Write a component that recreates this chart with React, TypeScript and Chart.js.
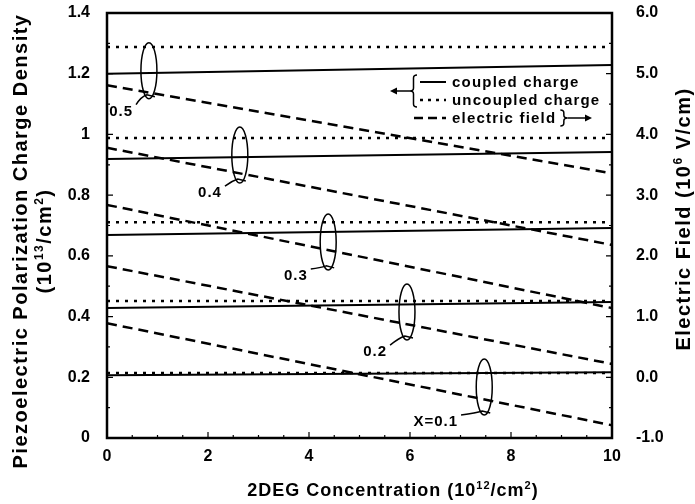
import React, { useEffect, useRef } from 'react';
import { Chart, registerables } from 'chart.js';

Chart.register(...registerables);

// 2DEG concentration (10^12 /cm^2) at which each curve is sampled
const concentration = [0, 10];

// Coupled polarization charge (10^13 /cm^2), one array per Al mole fraction
const coupled01 = [0.207, 0.217];
const coupled02 = [0.428, 0.448];
const coupled03 = [0.669, 0.692];
const coupled04 = [0.919, 0.942];
const coupled05 = [1.2, 1.229];

// Uncoupled polarization charge (10^13 /cm^2)
const uncoupled01 = [0.214, 0.214];
const uncoupled02 = [0.451, 0.451];
const uncoupled03 = [0.711, 0.711];
const uncoupled04 = [0.988, 0.988];
const uncoupled05 = [1.288, 1.288];

// Electric field in the barrier (10^6 V/cm)
const field01 = [0.89, -0.79];
const field02 = [1.83, 0.22];
const field03 = [2.84, 1.14];
const field04 = [3.78, 2.18];
const field05 = [4.81, 3.36];

const xTickLabels = ['0', '2', '4', '6', '8', '10'];
const chargeTickLabels = ['0', '0.2', '0.4', '0.6', '0.8', '1', '1.2', '1.4'];
const fieldTickLabels = ['-1.0', '0.0', '1.0', '2.0', '3.0', '4.0', '5.0', '6.0'];

// Mole-fraction group markers: ellipse centre and label anchor, in axis units
const groupLabels = ['X=0.1', '0.2', '0.3', '0.4', '0.5'];
const markerX = [7.47, 5.94, 4.38, 2.63, 0.83];
const markerY = [0.168, 0.415, 0.646, 0.932, 1.21];
const labelX = [6.51, 5.31, 3.74, 2.04, 0.28];
const labelY = [0.053, 0.283, 0.534, 0.807, 1.075];

const legendLabels = ['coupled charge', 'uncoupled charge', 'electric field'];

const FONT = '"Liberation Sans", Arial, Helvetica, sans-serif';

type Seg = { t: string; sup?: boolean };

function drawRich(
  ctx: CanvasRenderingContext2D,
  segs: Seg[],
  cx: number,
  cy: number,
  rot: number,
  size: number,
  spacing: number
) {
  ctx.save();
  ctx.translate(cx, cy);
  ctx.rotate(rot);
  ctx.fillStyle = '#000';
  ctx.textAlign = 'left';
  ctx.textBaseline = 'alphabetic';
  (ctx as any).letterSpacing = `${spacing}px`;
  const fontFor = (s: Seg) => `bold ${s.sup ? Math.round(size * 0.62) : size}px ${FONT}`;
  let total = 0;
  const widths = segs.map((s) => {
    ctx.font = fontFor(s);
    const w = ctx.measureText(s.t).width;
    total += w;
    return w;
  });
  let x = -total / 2;
  const base = size * 0.36;
  segs.forEach((s, i) => {
    ctx.font = fontFor(s);
    ctx.fillText(s.t, x, s.sup ? base - size * 0.42 : base);
    x += widths[i];
  });
  ctx.restore();
}

function arrowHead(ctx: CanvasRenderingContext2D, x: number, y: number, dir: number) {
  ctx.beginPath();
  ctx.moveTo(x, y);
  ctx.lineTo(x - dir * 7, y - 3.5);
  ctx.lineTo(x - dir * 7, y + 3.5);
  ctx.closePath();
  ctx.fill();
}

function brace(ctx: CanvasRenderingContext2D, x: number, yTop: number, yBot: number, dir: number) {
  // dir = -1 draws "{" (point on the left), +1 draws "}" (point on the right)
  const w = 7;
  const tip = x + (dir < 0 ? 0 : w);
  const back = x + (dir < 0 ? w : 0);
  const mid = (tip + back) / 2;
  const ym = (yTop + yBot) / 2;
  ctx.beginPath();
  ctx.moveTo(back, yTop);
  ctx.quadraticCurveTo(mid, yTop, mid, yTop + 3);
  ctx.lineTo(mid, ym - 3);
  ctx.quadraticCurveTo(mid, ym, tip, ym);
  ctx.quadraticCurveTo(mid, ym, mid, ym + 3);
  ctx.lineTo(mid, yBot - 3);
  ctx.quadraticCurveTo(mid, yBot, back, yBot);
  ctx.stroke();
}

const decorPlugin = {
  id: 'decor',
  afterDatasetsDraw(chart: any) {
    const { ctx, chartArea: a, scales } = chart;
    const xs = scales.x;
    const ys = scales.y;
    const ys2 = scales.y2;
    ctx.save();
    ctx.strokeStyle = '#000';
    ctx.fillStyle = '#000';
    ctx.setLineDash([]);

    // plot frame
    ctx.lineWidth = 2.5;
    ctx.strokeRect(a.left, a.top, a.right - a.left, a.bottom - a.top);

    // inward tick marks
    ctx.lineWidth = 1.2;
    ctx.beginPath();
    for (let k = 0; k <= 20; k++) {
      const px = xs.getPixelForValue(k * 0.5);
      const len = k % 4 === 0 ? 6 : 3;
      ctx.moveTo(px, a.bottom);
      ctx.lineTo(px, a.bottom - len);
    }
    for (let k = 0; k <= 14; k++) {
      const py = ys.getPixelForValue(k * 0.1);
      const len = k % 2 === 0 ? 6 : 3;
      ctx.moveTo(a.left, py);
      ctx.lineTo(a.left + len, py);
    }
    for (let k = 0; k <= 14; k++) {
      const py = ys2.getPixelForValue(-1 + k * 0.5);
      const len = k % 2 === 0 ? 6 : 3;
      ctx.moveTo(a.right, py);
      ctx.lineTo(a.right - len, py);
    }
    ctx.stroke();

    // mole-fraction group markers
    ctx.lineWidth = 1.5;
    ctx.font = `bold 15px ${FONT}`;
    (ctx as any).letterSpacing = '1px';
    ctx.textAlign = 'center';
    ctx.textBaseline = 'middle';
    for (let i = 0; i < groupLabels.length; i++) {
      const cx = xs.getPixelForValue(markerX[i]);
      const cy = ys.getPixelForValue(markerY[i]);
      const rx = 8;
      const ry = 28;
      ctx.beginPath();
      ctx.ellipse(cx, cy, rx, ry, 0, 0, Math.PI * 2);
      ctx.stroke();
      const lx = xs.getPixelForValue(labelX[i]);
      const ly = ys.getPixelForValue(labelY[i]);
      ctx.fillText(groupLabels[i], lx, ly);
      const w = ctx.measureText(groupLabels[i]).width;
      ctx.beginPath();
      ctx.moveTo(lx + w / 2 + 3, ly - 7);
      ctx.quadraticCurveTo(cx - 8, cy + ry - 2, cx - 2, cy + ry - 4);
      ctx.lineTo(cx + 6, cy + ry - 2);
      ctx.stroke();
    }

    // legend
    const rows = [82, 100, 118];
    const sx0 = 420;
    const sx1 = 446;
    const tx = 452;
    ctx.lineWidth = 2;
    ctx.beginPath();
    ctx.moveTo(sx0, rows[0]);
    ctx.lineTo(sx1, rows[0]);
    ctx.stroke();
    ctx.lineWidth = 2.5;
    ctx.setLineDash([3, 5]);
    ctx.beginPath();
    ctx.moveTo(sx0, rows[1]);
    ctx.lineTo(sx1, rows[1]);
    ctx.stroke();
    ctx.setLineDash([9, 5]);
    ctx.beginPath();
    ctx.moveTo(414, rows[2]);
    ctx.lineTo(sx1, rows[2]);
    ctx.stroke();
    ctx.setLineDash([]);

    ctx.font = `bold 15px ${FONT}`;
    (ctx as any).letterSpacing = '1.2px';
    ctx.textAlign = 'left';
    ctx.textBaseline = 'middle';
    legendLabels.forEach((t, i) => ctx.fillText(t, tx, rows[i] + 1));

    // "{" grouping the two charge entries, pointing at the left axis
    ctx.lineWidth = 1.5;
    brace(ctx, 410, 75, 107, -1);
    ctx.beginPath();
    ctx.moveTo(410, 91);
    ctx.lineTo(396, 91);
    ctx.stroke();
    arrowHead(ctx, 390, 91, -1);

    // "}" on the field entry, pointing at the right axis
    const fw = ctx.measureText(legendLabels[2]).width;
    const bx = tx + fw + 4;
    brace(ctx, bx, rows[2] - 8, rows[2] + 8, 1);
    ctx.beginPath();
    ctx.moveTo(bx + 7, rows[2]);
    ctx.lineTo(585, rows[2]);
    ctx.stroke();
    arrowHead(ctx, 592, rows[2], 1);

    ctx.restore();
  },
  afterDraw(chart: any) {
    const { ctx } = chart;
    drawRich(ctx, [{ t: 'Piezoelectric Polarization Charge Density' }], 20, 241, -Math.PI / 2, 20, 1.5);
    drawRich(
      ctx,
      [{ t: '(10' }, { t: '13', sup: true }, { t: '/cm' }, { t: '2', sup: true }, { t: ')' }],
      44,
      241,
      -Math.PI / 2,
      20,
      1.5
    );
    drawRich(
      ctx,
      [{ t: 'Electric Field (10' }, { t: '6', sup: true }, { t: ' V/cm)' }],
      683,
      219,
      -Math.PI / 2,
      20,
      1.5
    );
    drawRich(
      ctx,
      [{ t: '2DEG Concentration (10' }, { t: '12', sup: true }, { t: '/cm' }, { t: '2', sup: true }, { t: ')' }],
      393,
      490,
      0,
      18,
      1
    );
  },
};

export default function App() {
  const canvasRef = useRef<HTMLCanvasElement>(null);

  useEffect(() => {
    const canvas = canvasRef.current;
    if (!canvas) return;

    const pts = (ys: number[]) => ys.map((y, i) => ({ x: concentration[i], y }));
    const solid = { borderColor: '#000', borderWidth: 2, pointRadius: 0, fill: false, yAxisID: 'y' };
    const dotted = { ...solid, borderWidth: 2.5, borderDash: [3, 6] };
    const dashed = { ...solid, borderWidth: 2.5, borderDash: [10, 6], yAxisID: 'y2' };

    const coupled = [coupled01, coupled02, coupled03, coupled04, coupled05];
    const uncoupled = [uncoupled01, uncoupled02, uncoupled03, uncoupled04, uncoupled05];
    const field = [field01, field02, field03, field04, field05];

    const datasets: any[] = [];
    coupled.forEach((d, i) => datasets.push({ ...solid, label: `coupled ${groupLabels[i]}`, data: pts(d) }));
    uncoupled.forEach((d, i) => datasets.push({ ...dotted, label: `uncoupled ${groupLabels[i]}`, data: pts(d) }));
    field.forEach((d, i) => datasets.push({ ...dashed, label: `field ${groupLabels[i]}`, data: pts(d) }));

    const tickFont = { family: FONT, size: 16, weight: 'bold' as const };

    const chart = new Chart(canvas, {
      type: 'line',
      data: { datasets },
      plugins: [decorPlugin],
      options: {
        responsive: false,
        animation: false,
        events: [],
        layout: { padding: { top: 13, left: 0, right: 0, bottom: 0 } },
        plugins: { legend: { display: false }, tooltip: { enabled: false } },
        scales: {
          x: {
            type: 'linear',
            position: 'bottom',
            min: 0,
            max: 10,
            afterFit: (s: any) => {
              s.height = 66;
              s.paddingLeft = 0;
              s.paddingRight = 0;
            },
            grid: { display: false, drawTicks: false },
            border: { display: false },
            ticks: {
              stepSize: 2,
              color: '#000',
              font: tickFont,
              padding: 9,
              maxRotation: 0,
              autoSkip: false,
              callback: (_v: any, i: number) => xTickLabels[i],
            },
          },
          y: {
            type: 'linear',
            position: 'left',
            min: 0,
            max: 1.4,
            afterFit: (s: any) => {
              s.width = 107;
              s.paddingTop = 0;
              s.paddingBottom = 0;
            },
            grid: { display: false, drawTicks: false },
            border: { display: false },
            ticks: {
              stepSize: 0.2,
              color: '#000',
              font: tickFont,
              padding: 17,
              autoSkip: false,
              callback: (_v: any, i: number) => chargeTickLabels[i],
            },
          },
          y2: {
            type: 'linear',
            position: 'right',
            min: -1,
            max: 6,
            afterFit: (s: any) => {
              s.width = 83;
              s.paddingTop = 0;
              s.paddingBottom = 0;
            },
            grid: { display: false, drawTicks: false },
            border: { display: false },
            ticks: {
              stepSize: 1,
              color: '#000',
              font: tickFont,
              padding: 24,
              autoSkip: false,
              callback: (_v: any, i: number) => fieldTickLabels[i],
            },
          },
        },
      },
    });

    return () => chart.destroy();
  }, []);

  return (
    <div style={{ position: 'fixed', left: 0, top: 0, width: 695, height: 504, background: '#fff' }}>
      <canvas ref={canvasRef} width={695} height={504} style={{ display: 'block' }} />
    </div>
  );
}
